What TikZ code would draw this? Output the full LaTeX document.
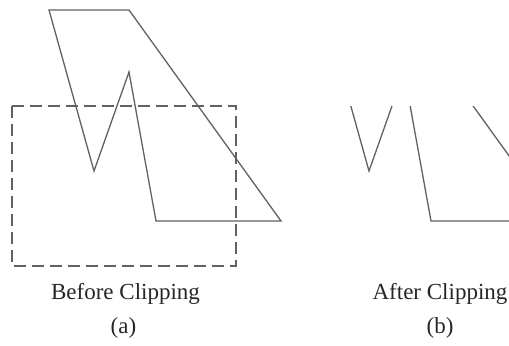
\documentclass[tikz,border=0pt]{standalone}
\usepackage{fontspec}
\setmainfont{Liberation Serif}
\usetikzlibrary{positioning}

\begin{document}
\begin{tikzpicture}[x=0.5pt,y=-0.5pt,
    polyline/.style={draw=black!62,line width=0.65pt,line join=miter},
    clipbox/.style={draw=black!62,line width=0.8pt,dash pattern=on 6pt off 3pt},
    caption/.style={font=\fontsize{11.5}{13}\selectfont,text=black!85,anchor=base,inner sep=0pt}]
      \useasboundingbox (0,0) rectangle (509,345);
      % Before clipping: polygon and clip window
      \draw[polyline] (49,10) -- (129,10) -- (281,221) -- (156,221) -- (129,72) -- (94,171) -- cycle;
      \draw[clipbox] (12,106) rectangle (236,266);
      % After clipping: same polygon, cut by the window
      \begin{scope}[shift={(275,0)}]
        \clip (12,106) rectangle (236,266);
        \draw[polyline] (49,10) -- (129,10) -- (281,221) -- (156,221) -- (129,72) -- (94,171) -- cycle;
      \end{scope}
      % Captions
      \node[caption] (capa) at (125.5,299.5) {Before Clipping};
      \node[caption] (laba) at (123.5,333.5) {(a)};
      \node[caption] (capb) at (440,299.5) {After Clipping};
      \node[caption] (labb) at (440,333.5) {(b)};
    \end{tikzpicture}
\end{document}
